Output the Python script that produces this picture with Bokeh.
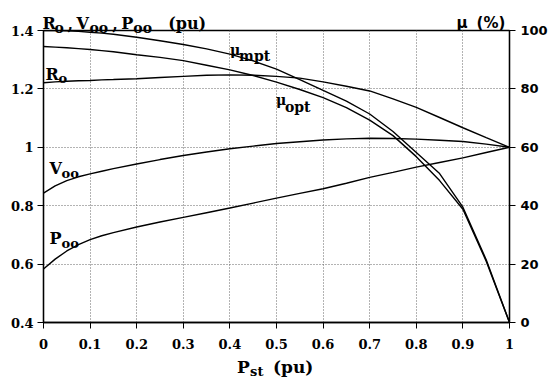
from bokeh.plotting import figure
from bokeh.models import Range1d, LinearAxis, FixedTicker, NumeralTickFormatter
from bokeh.core.properties import value
from bokeh.embed import file_html
from bokeh.resources import INLINE

# ---------------- data ----------------
p_st = [0, 0.025, 0.05, 0.075, 0.1, 0.125, 0.15, 0.2, 0.25, 0.3, 0.35, 0.4, 0.45, 0.5,
        0.55, 0.6, 0.65, 0.7, 0.75, 0.8, 0.85, 0.9, 0.95, 1.0]
mu_mpt = [100, 100, 99.9, 99.7, 99.4, 99.1, 98.7, 97.7, 96.5, 95.2, 93.7, 91.9, 89.6, 86.8,
          83.2, 79.5, 75.8, 71.4, 65.4, 58.2, 51.0, 39.5, 21.5, 0]
mu_opt = [94.5, 94.3, 94.1, 93.8, 93.5, 93.1, 92.7, 91.7, 90.8, 89.7, 88.1, 86.5, 84.6, 82.3,
          79.8, 77.0, 73.6, 69.3, 64.0, 56.8, 48.6, 38.8, 21.0, 0]
r_o = [1.221, 1.224, 1.226, 1.228, 1.229, 1.231, 1.232, 1.235, 1.239, 1.243, 1.247, 1.248,
       1.247, 1.243, 1.237, 1.224, 1.209, 1.193, 1.166, 1.137, 1.102, 1.067, 1.033, 1.0]
v_oo = [0.843, 0.868, 0.886, 0.899, 0.909, 0.918, 0.927, 0.943, 0.958, 0.972, 0.984, 0.995,
        1.004, 1.013, 1.019, 1.025, 1.029, 1.031, 1.030, 1.028, 1.024, 1.020, 1.011, 1.0]
p_oo = [0.583, 0.617, 0.645, 0.667, 0.684, 0.697, 0.708, 0.727, 0.744, 0.760, 0.776, 0.792,
        0.809, 0.826, 0.842, 0.858, 0.877, 0.897, 0.914, 0.932, 0.948, 0.964, 0.982, 1.0]

x_ticks = [0, 0.1, 0.2, 0.3, 0.4, 0.5, 0.6, 0.7, 0.8, 0.9, 1.0]
left_ticks = [0.4, 0.6, 0.8, 1.0, 1.2, 1.4]
right_ticks = [0, 20, 40, 60, 80, 100]

# ---------------- layout ----------------
W, H = 550, 378
BL, BT, FW, FH = 43, 30, 467, 292
BR = W - BL - FW
BB = H - BT - FH
X0, X1 = 0.0, 1.0
Y0, Y1 = 0.4, 1.4


def dx(px):
    return X0 + (px - BL) / FW * (X1 - X0)


def dy(py):
    return Y1 - (py - BT) / FH * (Y1 - Y0)


p = figure(width=W, height=H, x_range=Range1d(X0, X1), y_range=Range1d(Y0, Y1),
           output_backend="svg", toolbar_location=None,
           min_border_left=BL, min_border_right=BR, min_border_top=BT, min_border_bottom=BB)
p.extra_y_ranges = {"mu": Range1d(0, 100)}
p.background_fill_color = "white"
p.border_fill_color = "white"
p.outline_line_color = "black"
p.outline_line_width = 1.3

SERIF = "DejaVu Serif"
SANS = "DejaVu Sans"

p.xgrid.ticker = FixedTicker(ticks=x_ticks)
p.ygrid.ticker = FixedTicker(ticks=left_ticks)
for g in (p.xgrid, p.ygrid):
    g.grid_line_color = "#666666"
    g.grid_line_dash = "1 2"
    g.grid_line_width = 1

xa = p.xaxis[0]
xa.ticker = FixedTicker(ticks=x_ticks)
xa.formatter = NumeralTickFormatter(format="0.[0]")
ya = p.yaxis[0]
ya.ticker = FixedTicker(ticks=left_ticks)
ya.formatter = NumeralTickFormatter(format="0.[0]")
ra = LinearAxis(y_range_name="mu", ticker=FixedTicker(ticks=right_ticks))
p.add_layout(ra, "right")

for ax in (xa, ya):
    ax.major_label_text_font = SERIF
    ax.major_label_text_font_style = "bold"
    ax.major_label_text_font_size = "13px"
for ax in (xa, ya, ra):
    ax.axis_line_color = "black"
    ax.axis_line_width = 1.3
    ax.major_tick_line_color = "black"
    ax.major_tick_out = 6
    ax.major_tick_in = 0
    ax.minor_tick_out = 0
    ax.minor_tick_in = 0
    ax.major_label_text_color = "black"
xa.major_label_standoff = 10
ya.major_label_standoff = 4
ra.major_label_standoff = 5
ra.major_label_text_font = SANS
ra.major_label_text_font_style = "bold"
ra.major_label_text_font_size = "13px"

LW = 1.4
p.line(p_st, r_o, line_color="black", line_width=LW)
p.line(p_st, v_oo, line_color="black", line_width=LW)
p.line(p_st, p_oo, line_color="black", line_width=LW)
p.line(p_st, mu_mpt, line_color="black", line_width=LW, y_range_name="mu")
p.line(p_st, mu_opt, line_color="black", line_width=LW, y_range_name="mu")


def gtxt(px, py, s, size, font=SERIF, style="bold"):
    p.text(x=[dx(px)], y=[dy(py)], text=[s], text_font=value(font),
           text_font_size=value(f"{size}px"), text_font_style=style,
           text_color="black", text_align="left", text_baseline="alphabetic",
           level="overlay")


# title (left axis)
gtxt(42, 23, "R", 16)
gtxt(54, 27, "o", 14)
gtxt(67, 23, ",", 16)
gtxt(76, 23, "V", 16)
gtxt(89, 27, "oo", 14)
gtxt(112, 23, ",", 16)
gtxt(121, 23, "P", 16)
gtxt(133, 27, "oo", 14)
gtxt(168, 23, "(pu)", 16)

# title (right axis)
gtxt(457, 22, "\u03bc", 15, font=SANS)
gtxt(477, 22, "(%)", 15, font=SANS)

# curve labels
gtxt(45, 74, "R", 16)
gtxt(58, 78, "o", 13)
gtxt(49, 168, "V", 16)
gtxt(61, 173, "oo", 13)
gtxt(49, 238, "P", 16)
gtxt(61, 243, "oo", 13)
gtxt(230, 49, "\u03bc", 14)
gtxt(239, 55, "mpt", 14)
gtxt(276, 99, "\u03bc", 14)
gtxt(285, 106, "opt", 14)

# x axis label
gtxt(237, 366, "P", 17)
gtxt(250, 371, "st", 13)
gtxt(273, 366, "(pu)", 17)

open("out.html", "w").write(file_html(p, INLINE))
